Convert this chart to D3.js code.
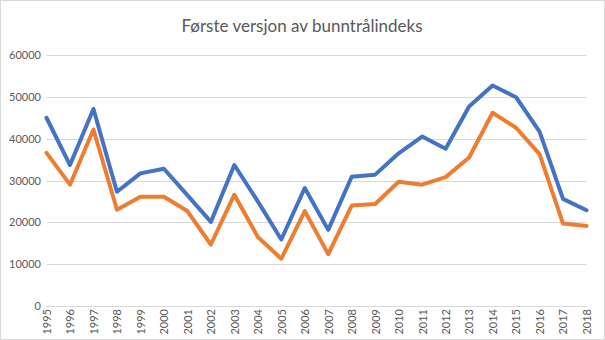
<!DOCTYPE html>
<html><head><meta charset="utf-8">
<script src="https://cdn.jsdelivr.net/npm/d3@7"></script>
<style>body{margin:0;background:#fff}svg{display:block}</style>
</head><body>
<svg id="c" width="605" height="340"></svg>
<script>
const years = ["1995","1996","1997","1998","1999","2000","2001","2002","2003","2004","2005","2006","2007","2008","2009","2010","2011","2012","2013","2014","2015","2016","2017","2018"];
const seriesBlue = [45000,33700,47100,27300,31700,32800,26500,20100,33700,25000,15900,28200,18200,30900,31400,36500,40500,37600,47700,52700,49900,41700,25600,22900];
const seriesOrange = [36600,29000,42200,23000,26100,26100,22700,14700,26600,16500,11300,22700,12400,24000,24400,29700,29000,30800,35500,46200,42600,36300,19700,19100];
const yTicks = [0,10000,20000,30000,40000,50000,60000];
const title = "Første versjon av bunntrålindeks";

const svg = d3.select("#c");
const W = 605, H = 340;
svg.append("rect").attr("x",0.5).attr("y",0.5).attr("width",W-1).attr("height",H-1)
  .attr("fill","#fff").attr("stroke","#d9d9d9");

const x = d3.scalePoint().domain(years).range([46.5, 586.5]);
const y = d3.scaleLinear().domain([0,60000]).range([306, 55]);

const font = "Lato, 'Open Sans', sans-serif";

// gridlines
svg.append("g").selectAll("line").data(yTicks).join("line")
  .attr("x1", x.range()[0]).attr("x2", x.range()[1])
  .attr("y1", d => Math.round(y(d))+0.5).attr("y2", d => Math.round(y(d))+0.5)
  .attr("stroke","#d9d9d9").attr("stroke-width",1);

// y axis labels
const yAxis = d3.axisLeft(y).tickValues(yTicks).tickSize(0).tickPadding(0).tickFormat(d3.format("d"));
const gy = svg.append("g").attr("transform","translate(41,0)").call(yAxis);
gy.select(".domain").remove();
gy.selectAll("text").attr("font-family",font).attr("font-size",11).attr("fill","#595959");

// x axis labels
const xAxis = d3.axisBottom(x).tickSize(0).tickPadding(0);
const gx = svg.append("g").attr("transform","translate(0,306)").call(xAxis);
gx.select(".domain").remove();
gx.selectAll("text").attr("font-family",font).attr("font-size",11).attr("fill","#595959")
  .attr("transform","rotate(-90)").attr("text-anchor","end")
  .attr("x",-3).attr("y",0).attr("dy","0.35em");

// lines
const line = d3.line().x((d,i)=>x(years[i])).y(d=>y(d));
svg.append("path").datum(seriesBlue).attr("d",line).attr("fill","none")
  .attr("stroke","#4472C4").attr("stroke-width",4).attr("stroke-linejoin","round").attr("stroke-linecap","round");
svg.append("path").datum(seriesOrange).attr("d",line).attr("fill","none")
  .attr("stroke","#ED7D31").attr("stroke-width",4).attr("stroke-linejoin","round").attr("stroke-linecap","round");

// title
svg.append("text").attr("x",302).attr("y",32).attr("text-anchor","middle")
  .attr("font-family",font).attr("font-size",17).attr("fill","#595959").text(title);
</script>
</body></html>
